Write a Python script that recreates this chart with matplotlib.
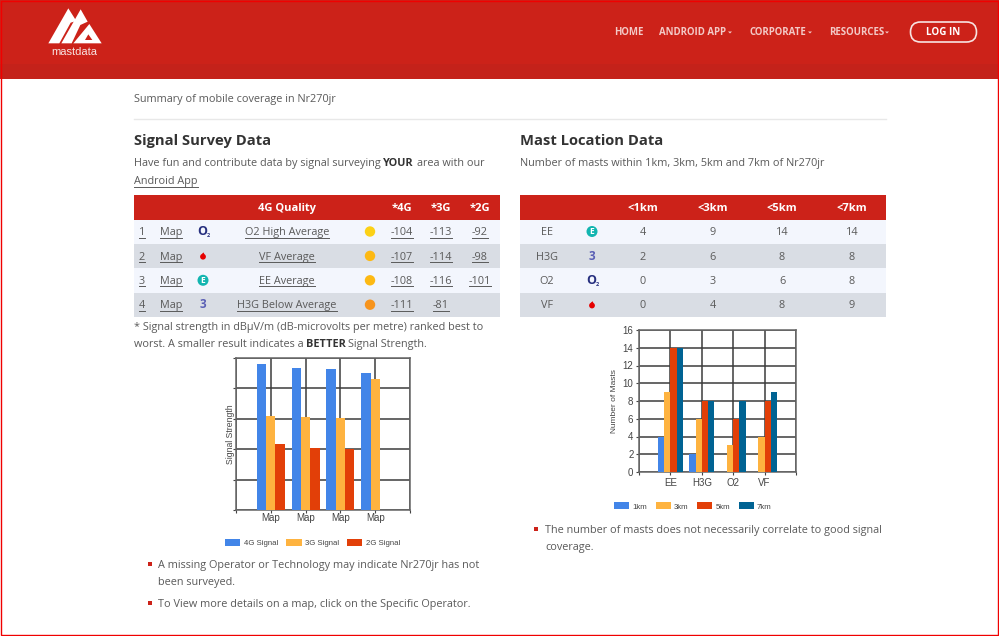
import numpy as np
import matplotlib
matplotlib.use('Agg')
import matplotlib.pyplot as plt
from matplotlib.patches import Rectangle, Polygon, Circle, FancyBboxPatch

plt.rcParams['font.family'] = ['Open Sans', 'DejaVu Sans']

W, H = 999, 636
RED = '#cc2219'
TXT = '#5a5a5a'
LIGHT = '#f3f6fd'
GREY = '#d9dde4'
SIZE = 7.85

fig = plt.figure(figsize=(W / 100, H / 100), dpi=100)
page = fig.add_axes([0, 0, 1, 1])
page.set_xlim(0, W)
page.set_ylim(H, 0)
page.axis('off')


def text(x, y, s, size=SIZE, color=TXT, weight='normal', ha='left', **kw):
    return page.text(x, y + 1.2, s, fontsize=size, color=color, fontweight=weight, ha=ha, va='center', **kw)


def link(x, y, s, size=SIZE, ha='center'):
    # underlined text, line is measured from the rendered text
    t = text(x, y, s, size=size, ha=ha)
    bb = t.get_window_extent(fig.canvas.get_renderer())
    page.plot([bb.x0, bb.x1], [y + 6, y + 6], color=TXT, lw=0.7)


def rect(x0, y0, x1, y1, c, z=1):
    page.add_patch(Rectangle((x0, y0), x1 - x0, y1 - y0, fc=c, ec='none', zorder=z))


def icon(name, x, y):
    if name == 'O2':
        text(x - 1, y - 1, 'O', size=9, color='#27307f', weight='bold', ha='center')
        text(x + 5, y + 3, '2', size=4, color='#27307f', weight='bold', ha='center')
    elif name == 'EE':
        page.add_patch(Circle((x, y), 5.5, fc='#12b5b0', ec='none', zorder=3))
        text(x, y - 1, 'E', size=6, color='white', weight='bold', ha='center', zorder=5)
    elif name == 'H3G':
        text(x, y - 1, '3', size=8.5, color='#5a5fb5', weight='bold', ha='center', zorder=5)
    else:
        page.add_patch(Circle((x, y + 0.8), 2.9, fc='#e60000', ec='none', zorder=3))
        page.add_patch(Polygon([(x - 1.5, y - 1.5), (x + 1.5, y - 1.5), (x + 0.5, y - 3.5)], fc='#e60000', ec='none', zorder=3))


# header
rect(0, 0, W, 64, RED)
rect(0, 64, W, 79, '#c4221a')

# logo
for pts in [[(145, 130), (205, 25), (229, 63), (212, 68), (178, 130)],
            [(184, 130), (217, 72), (242, 28), (263, 65), (241, 75), (215, 130)],
            [(220, 130), (268, 72), (305, 130)]]:
    page.add_patch(Polygon(np.array(pts) / 3, fc='white', ec='none', zorder=2))
page.add_patch(Polygon(np.array([(265, 103), (255, 120), (277, 120)]) / 3, fc=RED, ec='none', zorder=3))
page.text(74.5, 52, 'mastdata', fontsize=8, color='#f8e4e2', ha='center', va='center', family='Liberation Sans')

# nav
nav = '#f3c9c6'
text(614, 31.2, 'HOME', size=6.9, color=nav, weight='bold')
text(659, 31.2, 'ANDROID APP', size=6.9, color=nav, weight='bold')
text(749, 31.2, 'CORPORATE', size=6.9, color=nav, weight='bold')
text(829, 31.2, 'RESOURCES', size=6.9, color=nav, weight='bold')
for cx in [730, 810, 887]:
    page.add_patch(Polygon([(cx - 2, 31.5), (cx + 2, 31.5), (cx, 33.5)], fc=nav, ec='none'))
page.add_patch(FancyBboxPatch((910.5, 22), 66, 20, boxstyle='round,pad=0,rounding_size=10',
                              fc=RED, ec='#f8e4e2', lw=1.2))
text(943, 31.2, 'LOG IN', size=7.1, color='white', weight='bold', ha='center', zorder=5)

# intro
text(134, 98.5, 'Summary of mobile coverage in Nr270jr')
page.plot([134, 886], [119, 119], color='#e8e8e8', lw=1)

text(134, 139.5, 'Signal Survey Data', size=10.6, color='#333333', weight='bold')
text(520, 139.5, 'Mast Location Data', size=10.6, color='#333333', weight='bold')
text(134, 162.5, 'Have fun and contribute data by signal surveying')
text(383, 162.5, 'YOUR', color='#333333', weight='bold')
text(417, 162.5, 'area with our')
link(134, 180.5, 'Android App', ha='left')
text(520, 162.5, 'Number of masts within 1km, 3km, 5km and 7km of Nr270jr')

# table 1
survey = [
    (1, 'O2', 'O2 High Average', '#fcd116', '-104', '-113', '-92'),
    (2, 'VF', 'VF Average', '#fdb913', '-107', '-114', '-98'),
    (3, 'EE', 'EE Average', '#fdb913', '-108', '-116', '-101'),
    (4, 'H3G', 'H3G Below Average', '#f7941d', '-111', '-81', ''),
]
rect(134, 195, 500, 219.5, RED)
text(287, 207, '4G Quality', size=8, color='white', weight='bold', ha='center')
for x, s in zip([402, 441, 480], ['*4G', '*3G', '*2G']):
    text(x, 207, s, size=8, color='white', weight='bold', ha='center')
for i, row in enumerate(survey):
    y0 = 219.5 + i * 24.4
    y = y0 + 12
    rect(134, y0, 500, y0 + 24.4, LIGHT if i % 2 == 0 else GREY)
    link(142, y, str(row[0]))
    link(171, y, 'Map')
    icon(row[1], 203, y)
    link(287, y, row[2])
    page.add_patch(Circle((370, y), 5.2, fc=row[3], ec='none', zorder=3))
    for x, v in zip([402, 441, 480], row[4:]):
        if v:
            link(x, y, v)

text(134, 326, '* Signal strength in dBµV/m (dB-microvolts per metre) ranked best to')
text(134, 343, 'worst. A smaller result indicates a')
text(306, 343, 'BETTER', color='#333333', weight='bold')
text(348, 343, 'Signal Strength.')

# table 2
masts = {
    'EE': [4, 9, 14, 14],
    'H3G': [2, 6, 8, 8],
    'O2': [0, 3, 6, 8],
    'VF': [0, 4, 8, 9],
}
cols = [643, 713, 782, 852]
rect(520, 195, 886, 219.5, RED)
for x, s in zip(cols, ['<1km', '<3km', '<5km', '<7km']):
    text(x, 207, s, size=8, color='white', weight='bold', ha='center')
for i, (name, vals) in enumerate(masts.items()):
    y0 = 219.5 + i * 24.4
    y = y0 + 12
    rect(520, y0, 886, y0 + 24.4, LIGHT if i % 2 == 0 else GREY)
    text(547, y, name, ha='center')
    icon(name, 592, y)
    for x, v in zip(cols, vals):
        text(x, y, str(v), ha='center')

# bullets
for x, y in [(150, 564), (150, 603), (536, 529)]:
    rect(x - 2, y - 2, x + 2, y + 2, RED)
text(158, 564.5, 'A missing Operator or Technology may indicate Nr270jr has not')
text(158, 581.5, 'been surveyed.')
text(158, 603.5, 'To View more details on a map, click on the Specific Operator.')
text(545, 529.5, 'The number of masts does not necessarily correlate to good signal')
text(545, 546.5, 'coverage.')

# page border
page.add_patch(Rectangle((0.5, 0.5), W - 1.5, H - 1.5, fc='none', ec='#f00000', lw=1, zorder=10))


def chart_axes(x0, y0, x1, y1):
    ax = fig.add_axes([x0 / W, 1 - y1 / H, (x1 - x0) / W, (y1 - y0) / H])
    for s in ax.spines.values():
        s.set_color('#666666')
        s.set_linewidth(1.1)
    ax.set_axisbelow(True)
    ax.grid(True, color='#3c3c3c', lw=1.1)
    ax.tick_params(colors='#444444', labelsize=7, length=2, width=0.8, pad=2)
    return ax


CF = 'Liberation Sans'

# signal chart (bar heights, no scale shown on it)
signal = {
    '4G Signal': ([96, 93.4, 92.7, 90], '#4285e8'),
    '3G Signal': ([62, 61.5, 60.7, 86.2], '#feb340'),
    '2G Signal': ([43.5, 41, 40, 0], '#e23f08'),
}
ax = chart_axes(236, 358, 410, 510)
w = 0.27
for k, (name, (vals, c)) in enumerate(signal.items()):
    ax.bar(np.arange(1, 5) + (k - 1) * w, vals, w, color=c, label=name, zorder=3)
ax.set_xlim(0, 5)
ax.set_ylim(0, 100)
ax.set_yticks(range(0, 101, 20))
ax.set_yticklabels([])
ax.set_xticks(range(0, 6))
ax.set_xticklabels(['', 'Map', 'Map', 'Map', 'Map', ''], family=CF, fontsize=7)
ax.tick_params(axis='x', pad=0)
ax.set_ylabel('Signal Strength', family=CF, fontsize=6.2, color='#444444', labelpad=-3)
ax.legend(loc='upper center', bbox_to_anchor=(0.44, -0.145), ncol=3, frameon=False,
          prop={'family': CF, 'size': 5.6}, labelcolor='#444444', handlelength=1.95, handleheight=1.0,
          handletextpad=0.4, columnspacing=1.1)

# mast chart
mast_names = list(masts)
km = [('1km', '#4285e8'), ('3km', '#feb340'), ('5km', '#e23f08'), ('7km', '#006393')]
ax = chart_axes(639, 330, 796, 472)
w = 0.2
for k, (name, c) in enumerate(km):
    vals = [masts[m][k] for m in mast_names]
    ax.bar(np.arange(1, 5) + (k - 1.5) * w, vals, w, color=c, label=name, zorder=3)
ax.set_xlim(0, 5)
ax.set_ylim(0, 16)
ax.set_yticks(range(0, 17, 2))
ax.set_xticks(range(0, 6))
ax.set_xticklabels([''] + mast_names + [''], family=CF, fontsize=7)
for t in ax.get_yticklabels():
    t.set_family(CF)
    t.set_fontsize(7)
ax.set_ylabel('Number of Masts', family=CF, fontsize=6, color='#444444', labelpad=3)
ax.legend(loc='upper center', bbox_to_anchor=(0.344, -0.165), ncol=4, frameon=False,
          prop={'family': CF, 'size': 5.6}, labelcolor='#444444', handlelength=1.95, handleheight=1.0,
          handletextpad=0.4, columnspacing=1.1)

fig.savefig('out.png', dpi=100)
